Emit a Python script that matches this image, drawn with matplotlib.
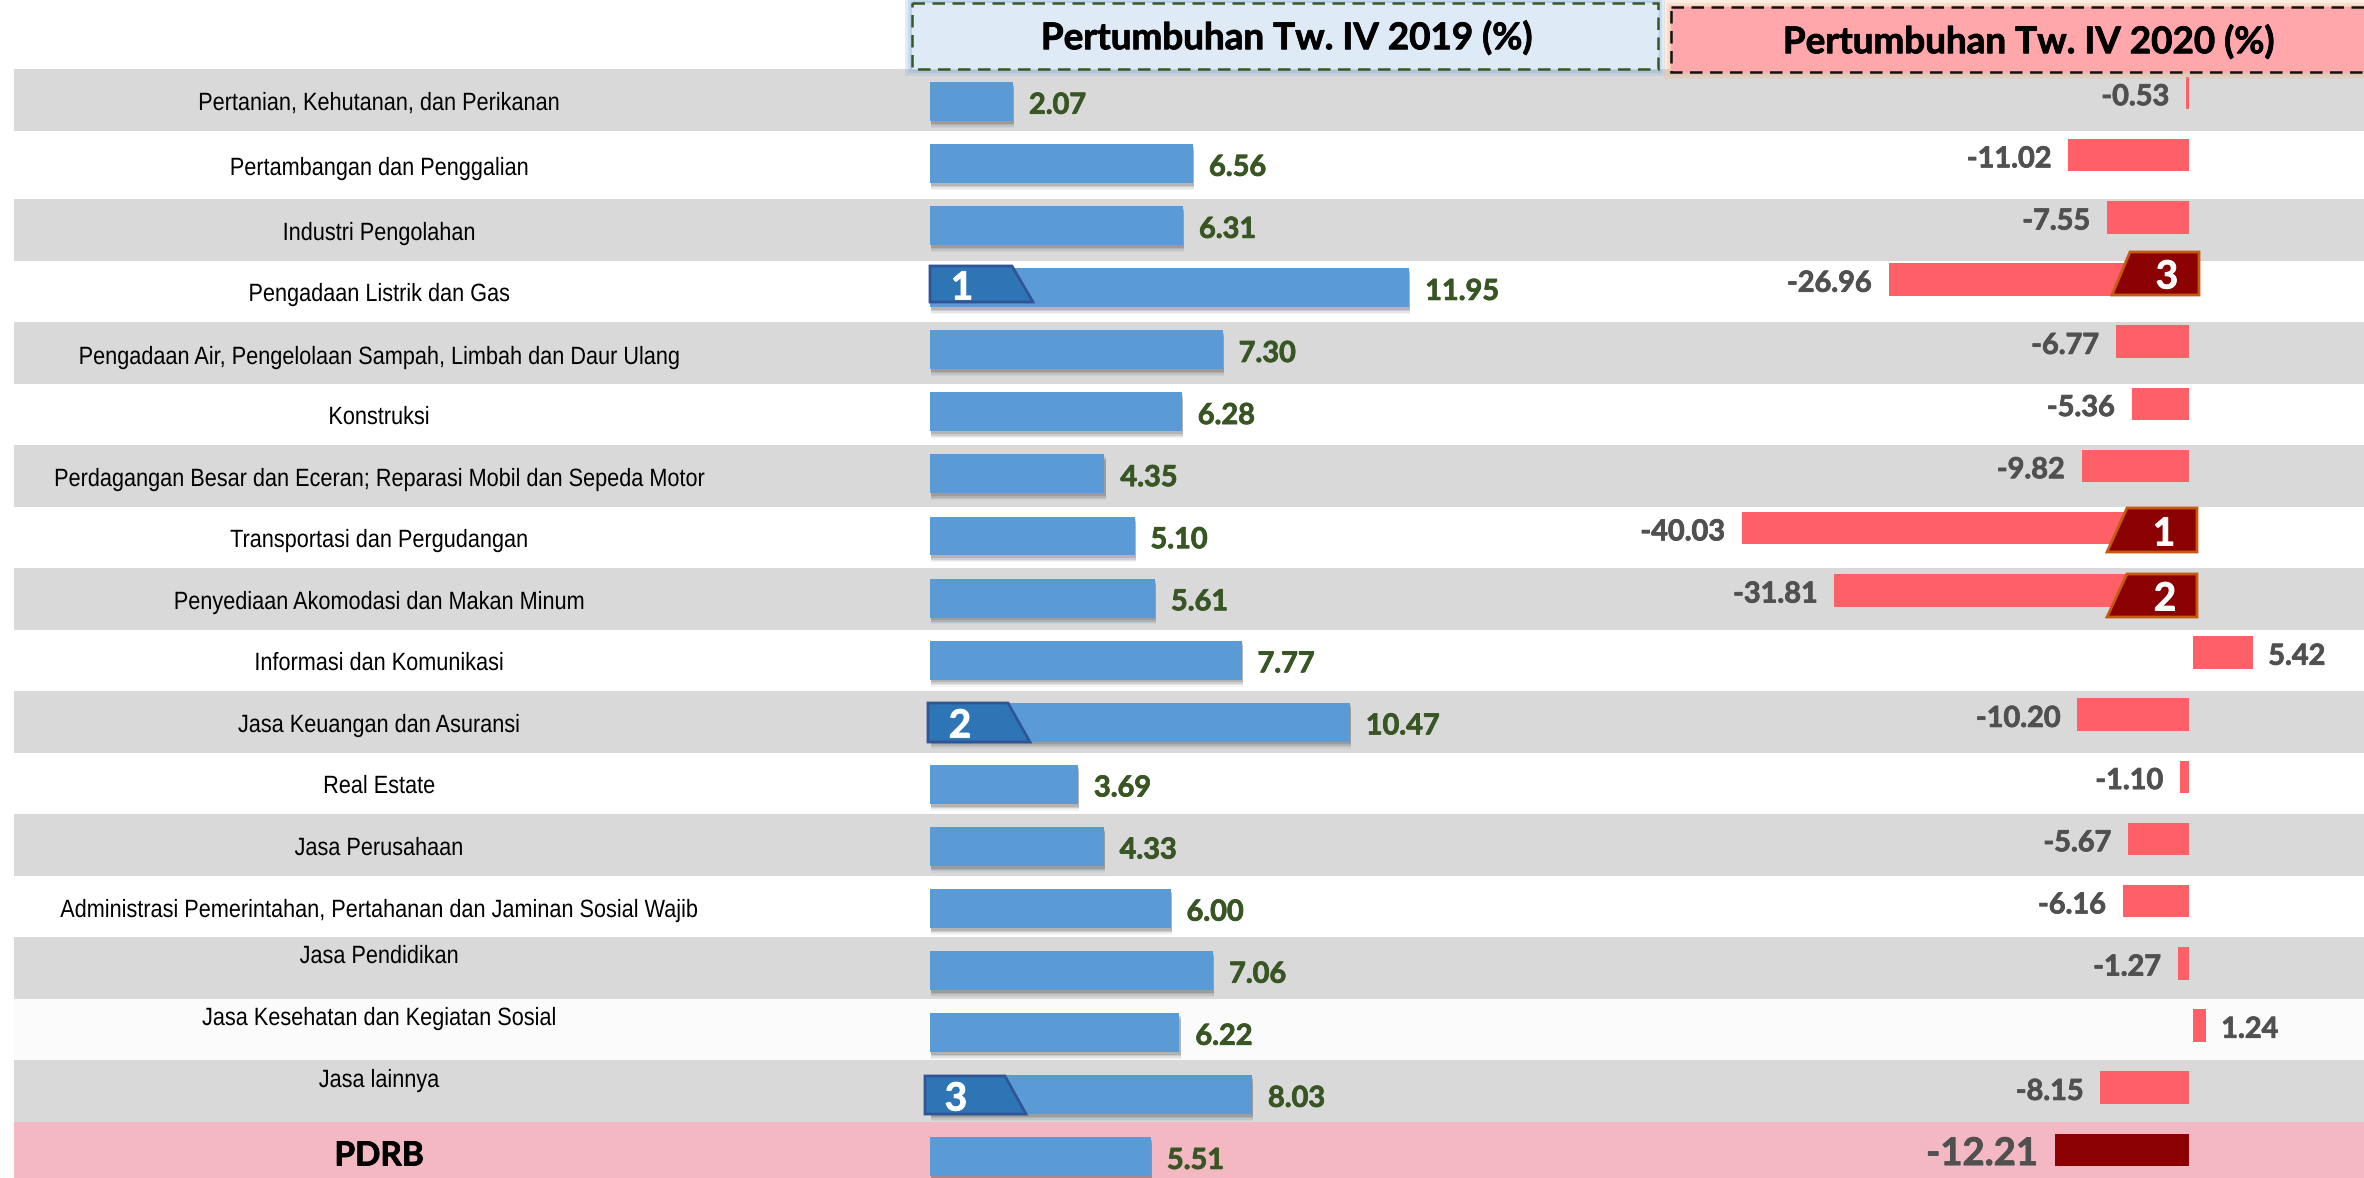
import matplotlib
matplotlib.use("Agg")
import matplotlib.pyplot as plt
import matplotlib.patheffects as pe
from matplotlib.patches import Polygon, Rectangle
from matplotlib.transforms import Affine2D

W, H = 2364, 1178

sectors = [
    "Pertanian, Kehutanan, dan Perikanan",
    "Pertambangan dan Penggalian",
    "Industri Pengolahan",
    "Pengadaan Listrik dan Gas",
    "Pengadaan Air, Pengelolaan Sampah, Limbah dan Daur Ulang",
    "Konstruksi",
    "Perdagangan Besar dan Eceran; Reparasi Mobil dan Sepeda Motor",
    "Transportasi dan Pergudangan",
    "Penyediaan Akomodasi dan Makan Minum",
    "Informasi dan Komunikasi",
    "Jasa Keuangan dan Asuransi",
    "Real Estate",
    "Jasa Perusahaan",
    "Administrasi Pemerintahan, Pertahanan dan Jaminan Sosial Wajib",
    "Jasa Pendidikan",
    "Jasa Kesehatan dan Kegiatan Sosial",
    "Jasa lainnya",
    "PDRB",
]
growth_2019 = [2.07, 6.56, 6.31, 11.95, 7.30, 6.28, 4.35, 5.10, 5.61,
               7.77, 10.47, 3.69, 4.33, 6.00, 7.06, 6.22, 8.03, 5.51]
growth_2020 = [-0.53, -11.02, -7.55, -26.96, -6.77, -5.36, -9.82, -40.03, -31.81,
               5.42, -10.20, -1.10, -5.67, -6.16, -1.27, 1.24, -8.15, -12.21]
title_2019 = "Pertumbuhan Tw. IV 2019 (%)"
title_2020 = "Pertumbuhan Tw. IV 2020 (%)"

# layout, in pixels of the picture
band_edges = [69, 131, 199, 261, 322, 384, 445, 507, 568, 630, 691, 753, 814, 876, 937, 999, 1060, 1122, 1178]
band_colors = ["#D9D9D9", "#FFFFFF"] * 7 + ["#D9D9D9", "#FBFBFB", "#D9D9D9", "#F4B8C2"]
label_y = [102, 167, 232, 293, 356, 416, 478, 539, 601, 662, 724, 785, 847, 909, 955, 1017, 1079, 1156]
# (left bottom x, left top x, right top x, right bottom x, top y, bottom y, text x, text y, text)
badges_left = [(930, 930, 1012, 1033, 266, 302, 962, 288, "1"),
               (928, 928, 1008, 1030, 703, 742, 960, 726, "2"),
               (925, 925, 1005, 1026, 1076, 1114, 956, 1099, "3")]
badges_right = [(2107, 2127, 2197, 2197, 508, 552, 2164, 534, "1"),
                (2107, 2127, 2197, 2197, 574, 617, 2165, 599, "2"),
                (2112, 2130, 2199, 2199, 252, 295, 2167, 277, "3")]

fig = plt.figure(figsize=(W / 100, H / 100), dpi=100, facecolor="white")


class Squeeze(pe.AbstractPathEffect):
    # narrows a text about x=cx, there is no condensed font installed
    def __init__(self, sx, cx):
        super().__init__()
        self.sx = sx
        self.cx = cx

    def draw_path(self, renderer, gc, tpath, affine, rgbFace=None):
        t = affine + Affine2D().translate(-self.cx, 0).scale(self.sx, 1).translate(self.cx, 0)
        renderer.draw_path(gc, tpath, t, rgbFace)


def px_axes(x0, x1, xlim, ylim=None, z=1):
    ax = fig.add_axes([x0 / W, 0, (x1 - x0) / W, 1], zorder=z)
    ax.set_xlim(*xlim)
    if ylim:
        ax.set_ylim(*ylim)
    ax.axis("off")
    return ax


def heavy(color):
    return [pe.withStroke(linewidth=0.6, foreground=color)]


back = px_axes(0, W, (0, W), (H, 0), 0)
for top, bottom, color in zip(band_edges[:-1], band_edges[1:], band_colors):
    back.axhspan(top, bottom, xmin=14 / W, color=color, lw=0)

# 2019 panel: zero at x=930, 40.1 px per point
rows_l = ((H - 101.5) / 62.07, -101.5 / 62.07)
ax_l = px_axes(930, 1700, (0, 770 / 40.1), rows_l)
bars = ax_l.barh(range(18), growth_2019, height=0.628, color="#5B9BD5", lw=0)
soft = [pe.SimplePatchShadow(offset=(0.8, -o), shadow_rgbFace="#303030", alpha=a)
        for o, a in ((5, 0.05), (4, 0.08), (3, 0.12), (2, 0.16))]
for b in bars:
    b.set_path_effects(soft + [pe.Normal()])
for i, v in enumerate(growth_2019):
    ax_l.annotate(f"{v:.2f}", (v, i), xytext=(11.5, -3), textcoords="offset points",
                  family="Lato", weight="bold", fontsize=20.8, color="#375623", va="center",
                  path_effects=heavy("#375623"))

# 2020 panel: zero at x=2192, 11.25 px per point; the bars stop just short of zero
rows_r = ((H - 93) / 62.17, -93 / 62.17)
ax_n = px_axes(1700, 2189, ((1700 - 2192) / 11.25, (2189 - 2192) / 11.25), rows_r)
ax_p = px_axes(2193, W, ((2193 - 2192) / 11.25, (W - 2192) / 11.25), rows_r)
colors_2020 = ["#FF5F67"] * 17 + ["#8B0000"]
ax_n.barh(range(18), growth_2020, height=0.523, color=colors_2020, lw=0)
ax_p.barh(range(18), growth_2020, height=0.523, color=colors_2020, lw=0)
for i, v in enumerate(growth_2020):
    size = 27.5 if i == 17 else 20.8
    if v < 0:
        ax_n.annotate(f"{v:.2f}", (v, i), xytext=(-12, -3), textcoords="offset points", ha="right",
                      family="Lato", weight="bold", fontsize=size, color="#505050", va="center",
                      annotation_clip=False, path_effects=heavy("#505050"))
    else:
        ax_p.annotate(f"{v:.2f}", (v, i), xytext=(11, -3), textcoords="offset points",
                      family="Lato", weight="bold", fontsize=size, color="#505050", va="center",
                      annotation_clip=False, path_effects=heavy("#505050"))

top = px_axes(0, W, (0, W), (H, 0), 3)
for name, y, in zip(sectors, label_y):
    if name == "PDRB":
        top.text(379, y, name, ha="center", va="center", family="Lato", weight="bold", fontsize=24,
                 path_effects=heavy("black"))
    else:
        top.text(379, y + 8, name, ha="center", va="baseline", family="Liberation Sans", fontsize=18,
                 path_effects=[Squeeze(0.867, 379)])

for blb, blt, brt, brb, yt, yb, tx, ty, num in badges_left:
    top.add_patch(Polygon([(blb, yb), (blt, yt), (brt, yt), (brb, yb)], fc="#2E75B6", ec="#2F5597", lw=2))
    top.text(tx, ty, num, color="white", ha="center", va="center", family="Lato", weight="bold", fontsize=28,
             path_effects=heavy("white"))
for blb, blt, brt, brb, yt, yb, tx, ty, num in badges_right:
    top.add_patch(Polygon([(blb, yb), (blt, yt), (brt, yt), (brb, yb)], fc="#8B0000", ec="#C55A11", lw=2))
    top.text(tx, ty, num, color="white", ha="center", va="center", family="Lato", weight="bold", fontsize=28,
             path_effects=heavy("white"))


def header(x0, x1, y0, y1, fill, edge, glow, title, tx, ty):
    r = Rectangle((x0, y0), x1 - x0, y1 - y0, fc=fill, ec=edge, lw=1.8, ls=(0, (5, 3)), clip_on=True)
    g = Rectangle((x0, y0), x1 - x0, y1 - y0, fc=fill, ec="none")
    g.set_path_effects([pe.withStroke(linewidth=w, foreground=glow, alpha=0.22) for w in (10, 6, 3)])
    top.add_patch(g)
    top.add_patch(r)
    top.text(tx, ty, title, ha="center", va="center", family="Lato", weight="bold", fontsize=26.5, color="black",
             path_effects=heavy("black"))


header(912, 1658, 3, 69, "#DEEAF6", "#385723", "#7EA9DC", title_2019, 1286, 38)
header(1671, W + 10, 7, 72, "#FFA7AB", "#111111", "#F4B183", title_2020, 2028, 42)

fig.savefig("out.png", dpi=100)
plt.close()
